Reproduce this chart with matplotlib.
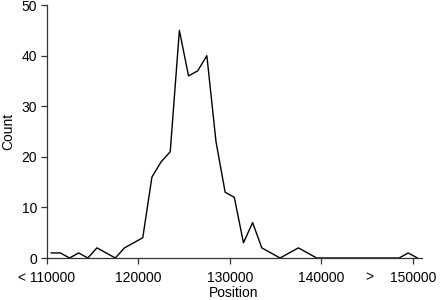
import numpy as np
import matplotlib
matplotlib.use('Agg')
import matplotlib.pyplot as plt

plt.rcParams['font.family'] = ['Liberation Sans', 'DejaVu Sans']

# bin centres (1000 wide) and counts
positions = [110500, 111500, 112500, 113500, 114500, 115500, 116500, 117500,
             118500, 119500, 120500, 121500, 122500, 123500, 124500, 125500,
             126500, 127500, 128500, 129500, 130500, 131500, 132500, 133500,
             134500, 135500, 136500, 137500, 138500, 139500, 140500, 141500,
             142500, 143500, 144500, 145500, 146500, 147500, 148500, 149500,
             150500]
counts = [1, 1, 0, 1, 0, 2, 1, 0,
          2, 3, 4, 16, 19, 21, 45, 36,
          37, 40, 23, 13, 12, 3, 7, 2,
          1, 0, 1, 2, 1, 0, 0, 0,
          0, 0, 0, 0, 0, 0, 0, 1,
          0]

x_ticks = [110000, 120000, 130000, 140000, 150000]
x_tick_labels = ['< 110000', '120000', '130000', '140000', '150000']
y_ticks = [0, 10, 20, 30, 40, 50]

fig = plt.figure(figsize=(4.4, 3.0), dpi=100)
ax = fig.add_axes([0.106, 0.14, 0.852, 0.843])

ax.plot(positions, counts, color='black', linewidth=1.0)

ax.set_xlim(110000, 150950)
ax.set_ylim(0, 50)
ax.set_xticks(x_ticks)
ax.set_xticklabels(x_tick_labels)
ax.set_yticks(y_ticks)

for s in ['top', 'right']:
    ax.spines[s].set_visible(False)
for s in ['left', 'bottom']:
    ax.spines[s].set_linewidth(0.9)
    ax.spines[s].set_color('#333333')

ax.tick_params(axis='both', direction='out', length=4, width=0.9,
               labelsize=10, color='#333333')
ax.tick_params(axis='x', pad=5)
ax.tick_params(axis='y', pad=3)

# the ">" marker between 140000 and 150000
ax.annotate('>', xy=(145300, 0), xycoords=('data', 'axes fraction'),
            xytext=(0, -(4 + 5)), textcoords='offset points',
            ha='center', va='top', fontsize=10)

ax.set_xlabel('Position', fontsize=10, labelpad=1)
ax.set_ylabel('Count', fontsize=10, labelpad=4)

fig.savefig('out.png', dpi=100)
